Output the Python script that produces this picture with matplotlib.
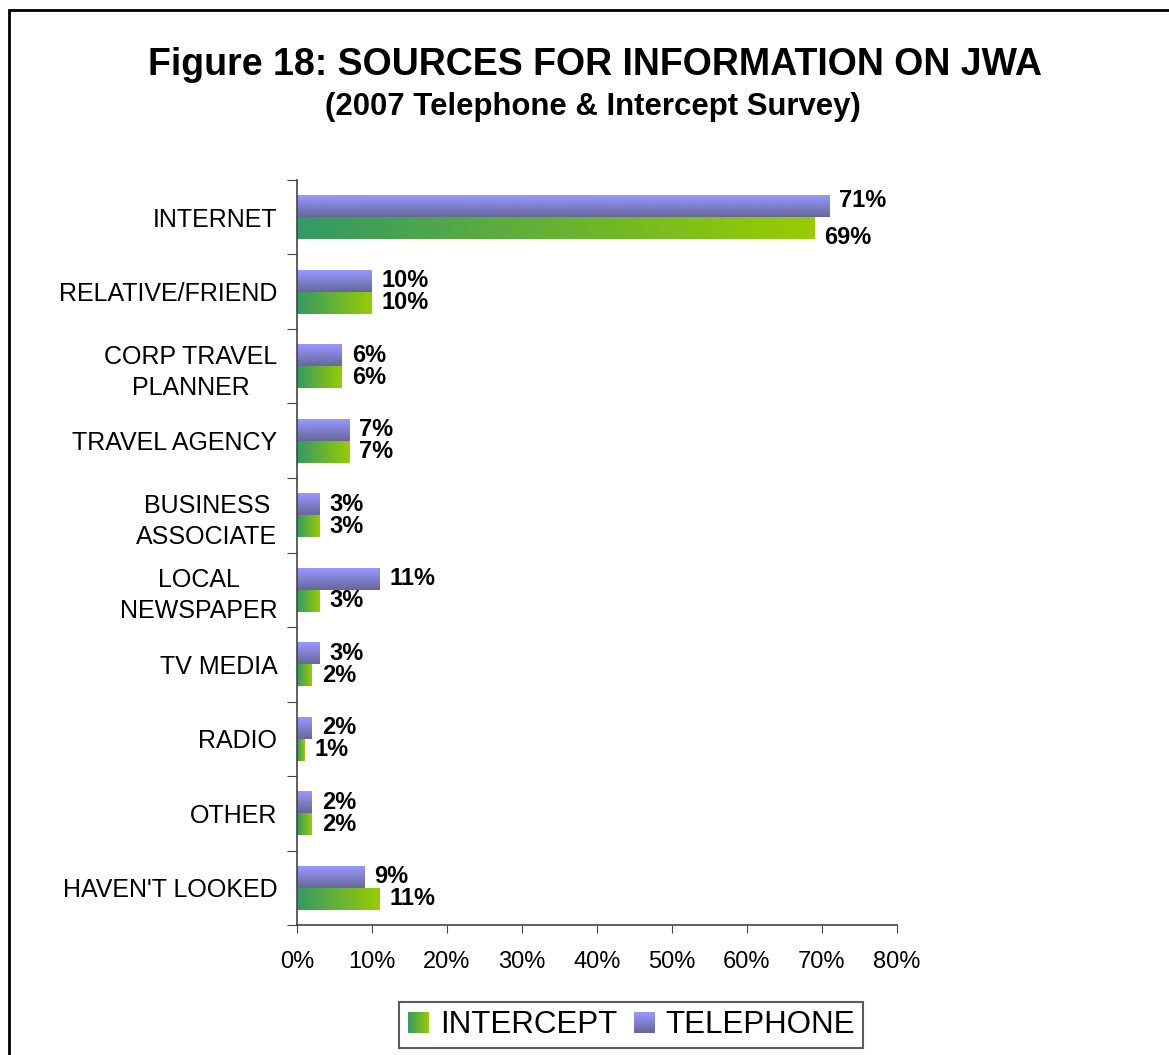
import numpy as np
import matplotlib
matplotlib.use("Agg")
import matplotlib.pyplot as plt
from matplotlib.colors import LinearSegmentedColormap
from matplotlib.patches import Rectangle
from matplotlib.legend_handler import HandlerBase
from matplotlib.image import BboxImage
from matplotlib.transforms import Bbox, TransformedBbox

plt.rcParams['font.family'] = ['Liberation Sans', 'DejaVu Sans']

categories = ["INTERNET", "RELATIVE/FRIEND", "CORP TRAVEL\nPLANNER", "TRAVEL AGENCY",
              "BUSINESS\nASSOCIATE", "LOCAL\nNEWSPAPER", "TV MEDIA", "RADIO", "OTHER",
              "HAVEN'T LOOKED"]
telephone = [71, 10, 6, 7, 3, 11, 3, 2, 2, 9]
intercept = [69, 10, 6, 7, 3, 3, 2, 1, 2, 11]
xticks = [0, 10, 20, 30, 40, 50, 60, 70, 80]

green_cm = LinearSegmentedColormap.from_list("grn", ["#339966", "#99CC00"])
blue_cm = LinearSegmentedColormap.from_list("blu", ["#666699", "#9999FF"])
hgrad = np.linspace(0, 1, 256).reshape(1, -1)
vgrad = np.linspace(0, 1, 256).reshape(-1, 1)

# labels on the long INTERNET bars sit a little apart from the bars
nudge = {0: (6, -9)}

fig = plt.figure(figsize=(11.69, 10.55), dpi=100)
ax = fig.add_axes([0.254, 0.1232, 0.513, 0.7062])

n = len(categories)
bh = 0.295
for i in range(n):
    yc = n - 1 - i
    # telephone bar on top, shaded top to bottom
    ax.imshow(vgrad, cmap=blue_cm, aspect='auto', origin='lower',
              extent=(0, telephone[i], yc, yc + bh), interpolation='bilinear')
    # intercept bar below, shaded left to right
    ax.imshow(hgrad, cmap=green_cm, aspect='auto',
              extent=(0, intercept[i], yc - bh, yc), interpolation='bilinear')
    up, down = nudge.get(i, (0, 0))
    ax.annotate(f"{telephone[i]}%", (telephone[i], yc + bh / 2), xytext=(7, up * 0.72),
                textcoords='offset points', ha='left', va='center',
                fontsize=17, fontweight='bold')
    ax.annotate(f"{intercept[i]}%", (intercept[i], yc - bh / 2), xytext=(7, down * 0.72),
                textcoords='offset points', ha='left', va='center',
                fontsize=17, fontweight='bold')

ax.set_xlim(0, 80)
ax.set_ylim(-0.5, n - 0.5)
ax.set_xticks(xticks)
ax.set_xticklabels([f"{t}%" for t in xticks], fontsize=17)
ax.tick_params(axis='x', direction='out', length=6, pad=13, color='#444444')
ax.set_yticks(np.arange(-0.5, n, 1.0))
ax.set_yticklabels([])
ax.tick_params(axis='y', which='major', direction='out', length=7, color='#444444')
ax.set_yticks(np.arange(n), minor=True)
ax.set_yticklabels(categories[::-1], minor=True, fontsize=18,
                   multialignment='center', linespacing=1.38)
ax.tick_params(axis='y', which='minor', length=0, pad=14)
for s in ['top', 'right']:
    ax.spines[s].set_visible(False)
for s in ['left', 'bottom']:
    ax.spines[s].set_color('#444444')
    ax.spines[s].set_linewidth(1.2)


class GradientHandler(HandlerBase):
    def __init__(self, cmap, data):
        super().__init__()
        self.cmap = cmap
        self.data = data

    def create_artists(self, legend, orig_handle, xdescent, ydescent,
                       width, height, fontsize, trans):
        size = 21 * 0.72
        bb = Bbox.from_bounds(-xdescent + (width - size) / 2,
                              -ydescent + (height - size) / 2, size, size)
        img = BboxImage(TransformedBbox(bb, trans), cmap=self.cmap,
                        interpolation='bilinear', origin='lower')
        img.set_data(self.data)
        return [img]


h_int = Rectangle((0, 0), 1, 1)
h_tel = Rectangle((0, 0), 1, 1)
leg = fig.legend([h_int, h_tel], ["INTERCEPT", "TELEPHONE"], loc='center',
                 bbox_to_anchor=(631 / 1169, 1 - 1025 / 1055), ncol=2,
                 fontsize=22.5, frameon=True, fancybox=False, edgecolor='#333333',
                 handlelength=0.75, handleheight=0.7, handletextpad=0.3,
                 columnspacing=0.5, borderpad=0.25,
                 handler_map={h_int: GradientHandler(green_cm, hgrad),
                              h_tel: GradientHandler(blue_cm, vgrad)})
leg.get_frame().set_linewidth(1.5)

fig.text(595 / 1169, 1 - 65 / 1055, "Figure 18: SOURCES FOR INFORMATION ON JWA",
         ha='center', va='center', fontsize=27, fontweight='bold')
fig.text(593 / 1169, 1 - 107 / 1055, "(2007 Telephone & Intercept Survey)",
         ha='center', va='center', fontsize=22.4, fontweight='bold')

# outer frame, running off the right and bottom edges
fig.patches.append(Rectangle((8.5 / 1169, -0.1), 1.2, 1.1 - 9.5 / 1055,
                             transform=fig.transFigure, fill=False,
                             edgecolor='black', linewidth=2))

fig.savefig("out.png", dpi=100)
